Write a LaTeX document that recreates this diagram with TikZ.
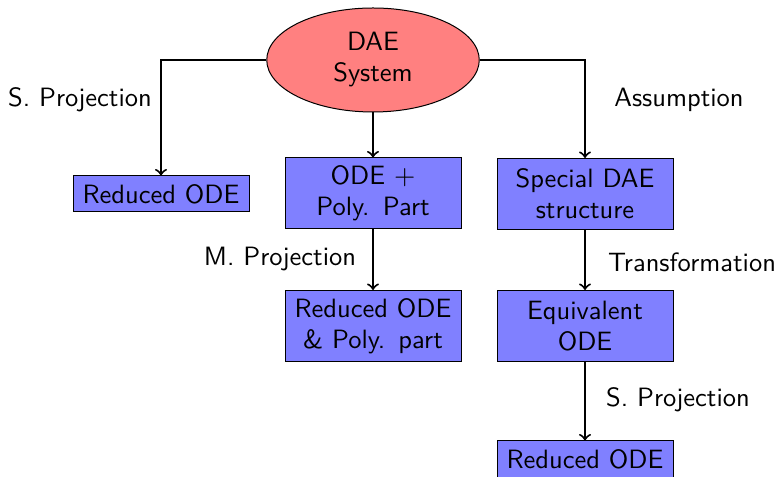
\documentclass[tikz,border=0pt]{standalone}
\usetikzlibrary{shapes.geometric}
\begin{document}
\begin{tikzpicture}[x=0.4pt,y=-0.4pt,font=\sffamily\fontsize{10.6}{12.4}\selectfont,
  boxnode/.style={draw, thin, fill=blue!50, minimum width=70.4pt, text width=64pt, align=center, inner sep=3pt, minimum height=14.4pt},
  boxtwo/.style={boxnode, minimum height=28.4pt},
  ellnode/.style={draw, thin, ellipse, fill=red!50, minimum width=85pt, minimum height=41.6pt, align=center, inner sep=1pt},
  conn/.style={thick, ->},
  lbl/.style={inner sep=0pt}]
\useasboundingbox (0,0) rectangle (778,477);
\node[ellnode] (dae) at (373,60) {DAE\\System};
\node[boxnode] (red1) at (161,194) {Reduced ODE};
\node[boxtwo] (ode) at (373,193.5) {ODE $+$\\Poly. Part};
\node[boxtwo] (red2) at (373,326) {Reduced ODE\\\& Poly. part};
\node[boxtwo] (spec) at (585,194) {Special DAE\\structure};
\node[boxtwo] (equiv) at (585,326) {Equivalent\\ODE};
\node[boxnode] (red3) at (585,459) {Reduced ODE};
\coordinate (lc) at (161,60);
\coordinate (rc) at (585,60);
\draw[conn] (dae.west) -- (lc) -- (red1.north);
\draw[conn] (dae.east) -- (rc) -- (spec.north);
\draw[conn] (dae.south) -- (ode.north);
\draw[conn] (ode.south) -- (red2.north);
\draw[conn] (spec.south) -- (equiv.north);
\draw[conn] (equiv.south) -- (red3.north);
\node[lbl] (l1) at (80,100) {S. Projection};
\node[lbl] (l2) at (679,100) {Assumption};
\node[lbl] (l3) at (280,259) {M. Projection};
\node[lbl] (l4) at (692,262) {Transformation};
\node[lbl] (l5) at (678,400) {S. Projection};
\end{tikzpicture}
\end{document}
